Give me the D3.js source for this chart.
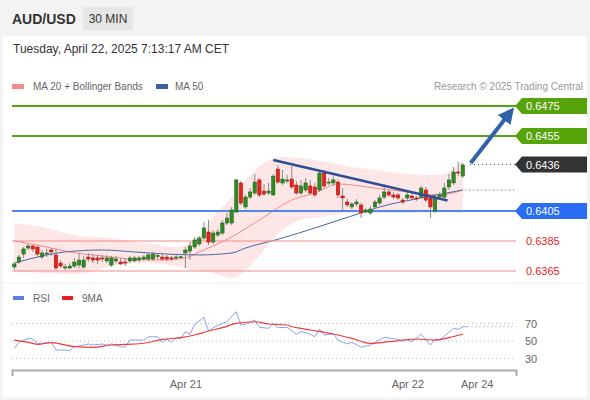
<!DOCTYPE html>
<html>
<head>
<meta charset="utf-8">
<script src="https://cdn.jsdelivr.net/npm/d3@7"></script>
<style>
body { margin: 0; background: #f3f3f3; }
svg text { font-family: "Liberation Sans", Arial, sans-serif; }
</style>
</head>
<body>
<svg id="chart" width="590" height="400"></svg>
<script>
// candles, 30 min
var open = [
.63677,.63710,.63763,.63803,.63817,.63810,.63743,.63763,.63790,.63757,
.63703,.63670,.63670,.63683,.63690,.63677,.63743,.63737,.63737,.63737,
.63717,.63690,.63717,.63710,.63710,.63717,.63717,.63723,.63730,.63730,
.63730,.63750,.63743,.63743,.63737,.63737,.63743,.63770,.63783,.63810,
.63830,.63870,.63910,.63843,.63890,.63903,.63970,.63970,.64043,.64237,
.64077,.64143,.64170,.64257,.64183,.64170,.64157,.64330,.64237,.64250,
.64263,.64223,.64170,.64190,.64217,.64210,.64190,.64303,.64237,.64237,
.64243,.64150,.64110,.64077,.64097,.64090,.64043,.64037,.64077,.64103,
.64143,.64177,.64157,.64157,.64123,.64137,.64150,.64137,.64143,.64190,
.64137,.64050,.64143,.64143,.64210,.64237,.64310,.64283];
var high = [
.63710,.63757,.63810,.63830,.63823,.63817,.63790,.63797,.63803,.63797,
.63723,.63697,.63703,.63737,.63770,.63750,.63770,.63763,.63757,.63757,
.63757,.63750,.63750,.63737,.63730,.63750,.63750,.63750,.63757,.63770,
.63777,.63770,.63763,.63757,.63750,.63757,.63750,.63810,.63843,.63877,
.63883,.63977,.63990,.63923,.63930,.63990,.64037,.64077,.64263,.64250,
.64157,.64203,.64297,.64270,.64230,.64237,.64297,.64357,.64323,.64290,
.64350,.64250,.64257,.64270,.64257,.64237,.64310,.64323,.64270,.64283,
.64257,.64203,.64130,.64110,.64130,.64103,.64070,.64083,.64123,.64157,
.64230,.64190,.64177,.64170,.64137,.64177,.64170,.64150,.64217,.64210,
.64150,.64163,.64177,.64237,.64297,.64343,.64377,.64370];
var low = [
.63657,.63697,.63737,.63790,.63777,.63737,.63730,.63743,.63750,.63657,
.63670,.63657,.63663,.63670,.63670,.63663,.63710,.63703,.63697,.63710,
.63703,.63677,.63703,.63690,.63683,.63703,.63710,.63710,.63717,.63717,
.63717,.63730,.63717,.63717,.63717,.63723,.63737,.63670,.63723,.63797,
.63817,.63857,.63823,.63830,.63877,.63890,.63957,.63957,.64037,.64090,
.64063,.64130,.64157,.64143,.64150,.64157,.64150,.64230,.64223,.64237,
.64197,.64157,.64157,.64177,.64157,.64143,.64177,.64203,.64223,.64217,
.64137,.64050,.64077,.64063,.64083,.64003,.64037,.64023,.64063,.64090,
.64130,.64143,.64130,.64123,.64097,.64123,.64123,.64117,.64130,.64110,
.64003,.64037,.64130,.64130,.64190,.64223,.64283,.64270];
var close = [
.63697,.63743,.63797,.63817,.63797,.63763,.63770,.63770,.63777,.63670,
.63683,.63677,.63683,.63710,.63723,.63723,.63730,.63723,.63723,.63730,
.63737,.63737,.63730,.63697,.63703,.63737,.63737,.63737,.63743,.63757,
.63763,.63753,.63730,.63730,.63730,.63743,.63745,.63790,.63817,.63857,
.63870,.63937,.63843,.63903,.63910,.63970,.64003,.64057,.64257,.64103,
.64143,.64177,.64243,.64157,.64163,.64183,.64283,.64243,.64263,.64257,
.64210,.64170,.64217,.64237,.64170,.64157,.64303,.64217,.64243,.64257,
.64157,.64137,.64090,.64097,.64110,.64037,.64057,.64063,.64110,.64137,
.64177,.64157,.64143,.64137,.64110,.64157,.64137,.64130,.64203,.64123,
.64077,.64143,.64157,.64203,.64257,.64310,.64303,.64357];

// bollinger bands (sampled at candle index)
var bandIdx   = [0, 7, 14, 21, 28, 35, 39, 43, 47, 50, 54, 58, 62, 66, 73, 78, 85, 92, 97];
var bandUpper = [.63970,.63937,.63883,.63870,.63837,.63810,.63857,.64010,.64143,.64257,.64370,.64410,.64403,.64385,.64343,.64323,.64297,.64290,.64390];
var bandLower = [.63643,.63637,.63630,.63683,.63703,.63683,.63650,.63637,.63603,.63657,.63790,.63923,.63990,.64010,.64037,.64037,.64037,.64043,.64037];

var ma20Idx = [0, 6, 12, 19, 25, 32, 37, 40, 47, 54, 60, 65, 70, 78, 85, 92, 97];
var ma20Val = [.63850,.63817,.63777,.63750,.63730,.63723,.63737,.63777,.63877,.64010,.64123,.64170,.64230,.64203,.64177,.64157,.64190];

var ma50Idx = [0, 6, 11, 19, 26, 33, 40, 47, 50, 58, 65, 73, 79, 88, 97];
var ma50Val = [.63703,.63750,.63777,.63790,.63777,.63763,.63757,.63770,.63803,.63870,.63937,.64017,.64077,.64137,.64190];

var trendIdx = [56, 93.7];
var trendVal = [.64390, .64120];
var arrowIdx = [98.7, 106.8];
var arrowVal = [.6437, .6469];

// key levels
var levels = [0.6475, 0.6455, 0.6436, 0.6405, 0.6385, 0.6365];
var levelKind = ["res", "res", "last", "sup", "minor", "minor"];

// RSI and its 9 period average
var rsiIdx = [0,1,3,4,5,6,8,9,11,12,13,14,16,17,19,20,21,23,24,25,28,29,31,32,33,34,35,36,37,38,39,41,42,43,45,46,48,49,50,52,53,55,56,57,59,61,62,63,64,65,66,67,69,70,72,73,75,77,80,83,84,85,86,88,90,91,92,95,96,97,98];
var rsiVal = [41.6,48.5,53,52.3,47.4,47.4,48.5,39.7,39.7,38.9,43.5,44.3,46.6,45.4,46.6,45.4,46.6,43.5,43.1,51.1,51.1,54.9,54.9,48.5,52.3,48.5,53.8,53,60.6,57.7,69.1,77,61.4,65.2,70.2,72,83.5,68.3,69.1,74,65.6,64.5,70.2,65.2,65.6,57.8,60.6,59.9,57.7,54.9,63.4,56.9,58,51.1,46.6,48.5,42.8,45.4,54.2,51.9,49.2,51.1,49.2,57.7,45.4,52.3,51.1,64.5,63.4,66.3,66.3];
var maIdx = [0,3,5,8,13,17,21,24,28,32,36,39,42,45,48,52,55,59,60,62,64,69,73,77,81,87,91,94,97];
var maVal = [51.1,48.5,46.2,48.1,43.5,42.8,45.4,46.2,47.4,51.9,53.8,56.9,61.4,65.2,70.2,72,69.4,68.3,66.3,64.5,62.6,58,53,47.4,49.2,52.3,51.1,53.8,57.7];
var rsiGrid = [70, 50, 30];

var tickIdx = [37, 85, 100];
var tickLabels = ["Apr 21", "Apr 22", "Apr 24"];

var svg = d3.select("#chart");

var x = d3.scaleLinear().domain([-0.5, 108.5]).range([12, 516]);
var y = d3.scaleLinear().domain([0.6365, 0.6475]).range([271, 106]);
var yr = d3.scaleLinear().domain([30, 70]).range([358.5, 323.5]);

// frame
svg.append("rect").attr("width", 590).attr("height", 400).attr("fill", "#f3f3f3");
svg.append("rect").attr("x", 3).attr("y", 36).attr("width", 584).attr("height", 361).attr("fill", "#fff");

// header
svg.append("text").attr("x", 12).attr("y", 24)
    .attr("font-size", 14).attr("font-weight", "bold").attr("fill", "#333")
    .text("AUD/USD");
svg.append("rect").attr("x", 83).attr("y", 7).attr("width", 50).attr("height", 23).attr("fill", "#e6e6e6");
svg.append("text").attr("x", 108).attr("y", 23).attr("text-anchor", "middle")
    .attr("font-size", 12).attr("fill", "#333").text("30 MIN");
svg.append("text").attr("x", 13).attr("y", 53)
    .attr("font-size", 12).attr("fill", "#333")
    .text("Tuesday, April 22, 2025 7:13:17 AM CET");

// legend
svg.append("rect").attr("x", 12).attr("y", 84).attr("width", 12).attr("height", 5).attr("fill", "#f78b8b");
svg.append("text").attr("x", 33).attr("y", 90).attr("font-size", 10).attr("fill", "#666").text("MA 20 + Bollinger Bands");
svg.append("rect").attr("x", 156).attr("y", 84).attr("width", 12).attr("height", 5).attr("fill", "#3b5fa0");
svg.append("text").attr("x", 175).attr("y", 90).attr("font-size", 10).attr("fill", "#666").text("MA 50");
svg.append("text").attr("x", 583).attr("y", 90).attr("text-anchor", "end")
    .attr("font-size", 10).attr("fill", "#999").text("Research \u00a9 2025 Trading Central");

// bollinger band fill
var band = d3.area()
    .x(function(d, i) { return x(bandIdx[i]); })
    .y0(function(d, i) { return y(bandLower[i]); })
    .y1(function(d, i) { return y(bandUpper[i]); })
    .curve(d3.curveMonotoneX);
svg.append("path").datum(bandIdx).attr("d", band).attr("fill", "#fde2e2").attr("opacity", 0.85);

var lineOf = function(idx, vals, ys) {
    return d3.line()
        .x(function(d, i) { return x(idx[i]); })
        .y(function(d, i) { return ys(vals[i]); })
        .curve(d3.curveMonotoneX)(idx);
};
svg.append("path").attr("d", lineOf(ma20Idx, ma20Val, y)).attr("fill", "none").attr("stroke", "#f38a8a").attr("stroke-width", 1);
svg.append("path").attr("d", lineOf(ma50Idx, ma50Val, y)).attr("fill", "none").attr("stroke", "#4866aa").attr("stroke-width", 1);

// level lines
var lvlColor = { res: "#55a317", sup: "#4d87ef", minor: "#f28c8c", last: "#444" };
levels.forEach(function(v, i) {
    var k = levelKind[i];
    if (k == "last") {
        svg.append("line").attr("x1", 470).attr("x2", 516).attr("y1", y(v)).attr("y2", y(v))
            .attr("stroke", "#555").attr("stroke-dasharray", "1,3");
    } else {
        svg.append("line").attr("x1", 12).attr("x2", 516).attr("y1", y(v)).attr("y2", y(v))
            .attr("stroke", lvlColor[k]).attr("stroke-width", k == "minor" ? 1 : 2);
    }
});
// current MA level, dotted
svg.append("line").attr("x1", x(97.5)).attr("x2", 516)
    .attr("y1", y(ma50Val[ma50Val.length - 1])).attr("y2", y(ma50Val[ma50Val.length - 1]))
    .attr("stroke", "#4866aa").attr("stroke-dasharray", "1,3");

// candles
var idx = d3.range(open.length);
var candle = svg.append("g").selectAll("g").data(idx).enter().append("g");
candle.append("line")
    .attr("x1", function(i) { return x(i); })
    .attr("x2", function(i) { return x(i); })
    .attr("y1", function(i) { return y(high[i]); })
    .attr("y2", function(i) { return y(low[i]); })
    .attr("stroke", "#8a8a8a").attr("stroke-width", 1);
candle.append("rect")
    .attr("x", function(i) { return x(i) - 1.7; })
    .attr("width", 3.4)
    .attr("y", function(i) { return y(Math.max(open[i], close[i])); })
    .attr("height", function(i) { return Math.max(1, Math.abs(y(open[i]) - y(close[i]))); })
    .attr("fill", function(i) { return close[i] >= open[i] ? "#2f8a22" : "#e8221c"; })
    .attr("stroke", function(i) { return close[i] >= open[i] ? "#1f5e18" : "#b01612"; })
    .attr("stroke-width", 0.5);

// trend line
svg.append("line")
    .attr("x1", x(trendIdx[0])).attr("y1", y(trendVal[0]))
    .attr("x2", x(trendIdx[1])).attr("y2", y(trendVal[1]))
    .attr("stroke", "#2d4f96").attr("stroke-width", 2.5);

// arrow
svg.append("defs").append("marker").attr("id", "ah")
    .attr("viewBox", "0 0 10 10").attr("refX", 4).attr("refY", 5)
    .attr("markerWidth", 4).attr("markerHeight", 4).attr("orient", "auto")
  .append("path").attr("d", "M0,0L10,5L0,10z").attr("fill", "#2f62a8");
svg.append("line")
    .attr("x1", x(arrowIdx[0])).attr("y1", y(arrowVal[0]))
    .attr("x2", x(arrowIdx[1])).attr("y2", y(arrowVal[1]))
    .attr("stroke", "#2f62a8").attr("stroke-width", 4).attr("marker-end", "url(#ah)");

// level labels
var boxColor = { res: "#56a40a", sup: "#2a6df4", last: "#333" };
levels.forEach(function(v, i) {
    var k = levelKind[i], yc = y(v);
    if (k == "minor") {
        svg.append("text").attr("x", 526).attr("y", yc + 4).attr("font-size", 11)
            .attr("fill", "#e8231f").text(v.toFixed(4));
        return;
    }
    svg.append("path")
        .attr("d", "M515," + yc + "L522," + (yc - 8) + "L587," + (yc - 8) + "L587," + (yc + 8) + "L522," + (yc + 8) + "Z")
        .attr("fill", boxColor[k]);
    svg.append("text").attr("x", 526).attr("y", yc + 4).attr("font-size", 11)
        .attr("fill", "#fff").text(v.toFixed(4));
});

// panel separator
svg.append("line").attr("x1", 3).attr("x2", 587).attr("y1", 283).attr("y2", 283).attr("stroke", "#eee");

// RSI legend
svg.append("rect").attr("x", 13).attr("y", 296).attr("width", 11).attr("height", 4).attr("fill", "#5b7fe0");
svg.append("text").attr("x", 33).attr("y", 302).attr("font-size", 10).attr("fill", "#666").text("RSI");
svg.append("rect").attr("x", 62).attr("y", 296).attr("width", 11).attr("height", 4).attr("fill", "#e82020");
svg.append("text").attr("x", 82).attr("y", 302).attr("font-size", 10).attr("fill", "#666").text("9MA");

// RSI grid
rsiGrid.forEach(function(v) {
    svg.append("line").attr("x1", 12).attr("x2", 516).attr("y1", yr(v)).attr("y2", yr(v))
        .attr("stroke", "#bbb").attr("stroke-dasharray", "1,3");
    svg.append("text").attr("x", 525).attr("y", yr(v) + 4).attr("font-size", 11)
        .attr("fill", "#666").text(v);
});
var lastRsi = rsiVal[rsiVal.length - 1];
svg.append("line").attr("x1", x(98)).attr("x2", 516).attr("y1", yr(lastRsi)).attr("y2", yr(lastRsi))
    .attr("stroke", "#8aa8f0").attr("stroke-dasharray", "1,3");

var straight = function(idx, vals) {
    return d3.line()
        .x(function(d, i) { return x(idx[i]); })
        .y(function(d, i) { return yr(vals[i]); })(idx);
};
svg.append("path").attr("d", straight(rsiIdx, rsiVal)).attr("fill", "none").attr("stroke", "#88a4ee").attr("stroke-width", 1);
svg.append("path").attr("d", lineOf(maIdx, maVal, yr)).attr("fill", "none").attr("stroke", "#f03a3a").attr("stroke-width", 1.2);

// time axis
var axis = svg.append("g").attr("transform", "translate(0,370)")
    .call(d3.axisBottom(x).tickValues(tickIdx)
        .tickFormat(function(d, i) { return tickLabels[i]; })
        .tickSize(0).tickSizeOuter(6).tickPadding(10));
axis.select(".domain").attr("stroke", "#aaa").attr("stroke-width", 2);
axis.selectAll("text").attr("font-size", 11).attr("fill", "#666")
    .style("font-family", "'Liberation Sans', Arial, sans-serif");
</script>
</body>
</html>
